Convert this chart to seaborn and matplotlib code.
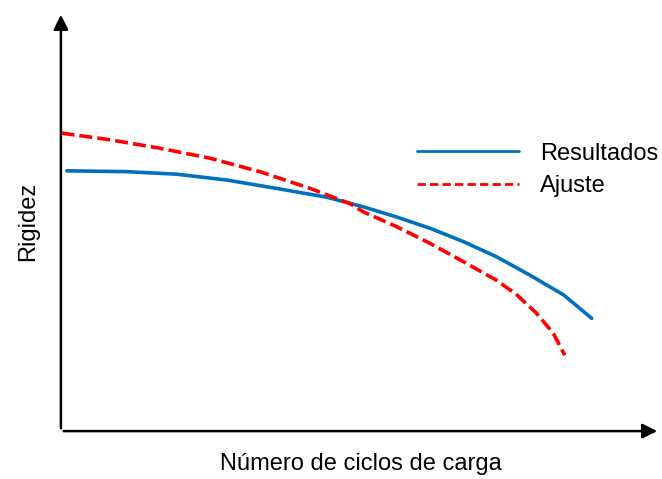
import pandas as pd
import matplotlib
matplotlib.use("Agg")
import matplotlib.pyplot as plt
import seaborn as sns

# Dados (unidades arbitrárias)
ciclos_resultados = [0.10, 1.10, 1.93, 2.77, 3.60, 4.44, 5.05, 5.60, 6.16, 6.72, 7.27, 7.83, 8.39, 8.86]
rigidez_resultados = [6.21, 6.19, 6.13, 5.99, 5.79, 5.58, 5.35, 5.11, 4.84, 4.52, 4.16, 3.72, 3.25, 2.69]

ciclos_ajuste = [0.01, 0.82, 1.65, 2.49, 3.32, 4.16, 4.82, 5.05, 5.60, 6.16, 6.72, 7.27, 7.61, 7.94, 8.22, 8.41]
rigidez_ajuste = [7.11, 6.95, 6.75, 6.51, 6.19, 5.79, 5.43, 5.23, 4.88, 4.48, 4.04, 3.60, 3.25, 2.81, 2.33, 1.81]

df = pd.concat([
    pd.DataFrame({'ciclos': ciclos_resultados, 'rigidez': rigidez_resultados, 'serie': 'Resultados'}),
    pd.DataFrame({'ciclos': ciclos_ajuste, 'rigidez': rigidez_ajuste, 'serie': 'Ajuste'}),
])

sns.set_style("white")
plt.rcParams['font.family'] = ['Liberation Sans', 'DejaVu Sans']
plt.rcParams['text.color'] = 'black'
plt.rcParams['axes.labelcolor'] = 'black'

fig = plt.figure(figsize=(6.62, 4.79), dpi=100)
ax = fig.add_axes([0.092, 0.100, 0.905, 0.875])

sns.lineplot(data=df, x='ciclos', y='rigidez', hue='serie', style='serie',
             palette={'Resultados': '#0070C0', 'Ajuste': '#FF0000'},
             dashes={'Resultados': '', 'Ajuste': (3.6, 1.4)},
             linewidth=2.6, sort=False, ax=ax)

ax.set_xlim(0, 10)
ax.set_ylim(0, 10)
ax.set_xticks([])
ax.set_yticks([])
for s in ax.spines.values():
    s.set_visible(False)

# eixos com setas
ax.annotate('', xy=(1.0, 0), xytext=(0, 0), xycoords='axes fraction',
            arrowprops=dict(arrowstyle='-|>', color='black', lw=1.8, mutation_scale=22))
ax.annotate('', xy=(0, 1.0), xytext=(0, 0), xycoords='axes fraction',
            arrowprops=dict(arrowstyle='-|>', color='black', lw=1.8, mutation_scale=22))

ax.set_xlabel('Número de ciclos de carga', fontsize=17, labelpad=16)
ax.set_ylabel('Rigidez', fontsize=17, labelpad=16)

handles, labels = ax.get_legend_handles_labels()
leg = ax.legend(handles, labels, loc='upper left', bbox_to_anchor=(0.595, 0.688),
                frameon=False, fontsize=17, handlelength=4.3, handletextpad=0.9,
                labelspacing=0.45, borderpad=0, borderaxespad=0)
for ln in leg.get_lines():
    ln.set_linewidth(2.0)
leg.get_lines()[1].set_dashes((3, 1.5))

plt.savefig('out.png', dpi=100)
plt.close()
